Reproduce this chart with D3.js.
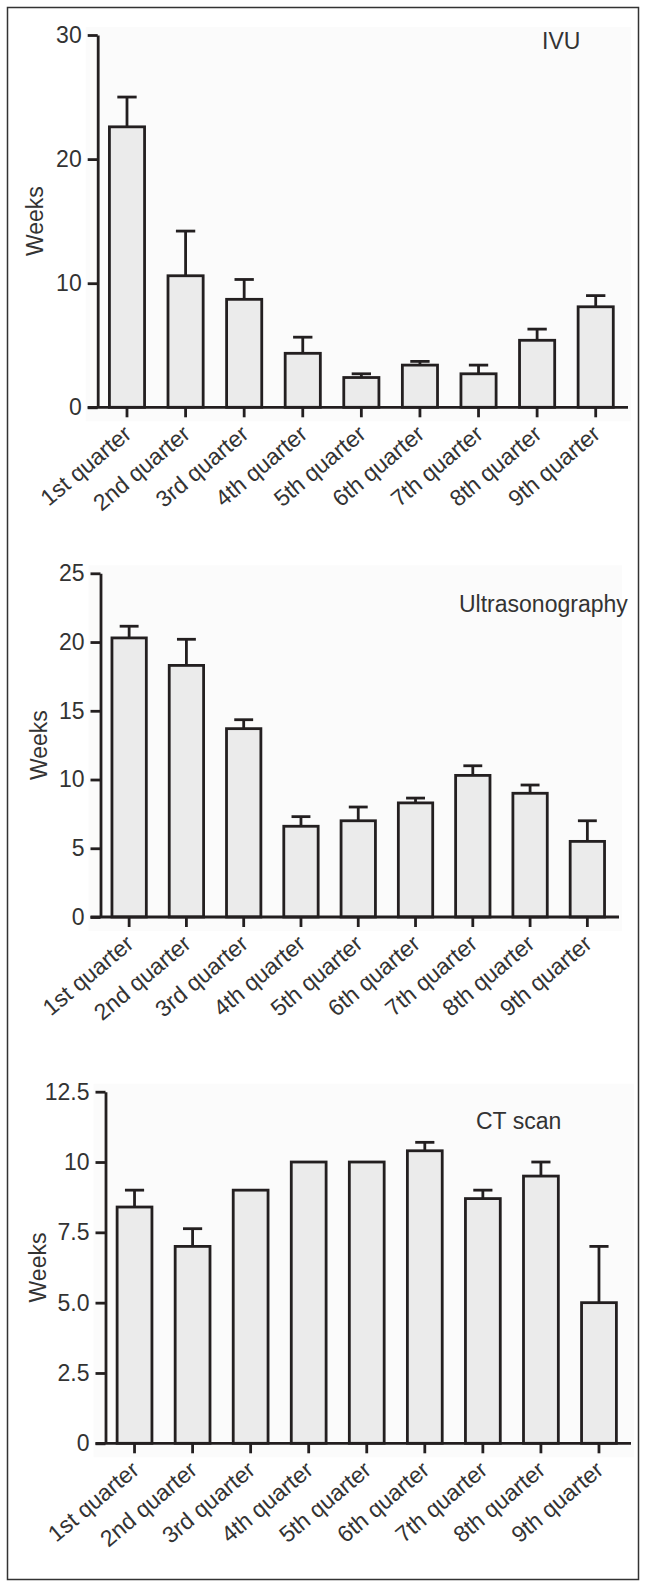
<!DOCTYPE html>
<html>
<head>
<meta charset="utf-8">
<script src="https://cdn.jsdelivr.net/npm/d3@7"></script>
<style>
  body { margin: 0; background: #fff; }
  svg { display: block; }
  .axis path, .axis line { stroke: #231f20; stroke-width: 2.8; }
  .axis text { font-family: 'Liberation Sans', Arial, sans-serif; fill: #333; }
</style>
</head>
<body>
<div id="chart"></div>
<script>
// quarters on the x axis, same for every panel
var quarters = ['1st quarter', '2nd quarter', '3rd quarter', '4th quarter', '5th quarter',
    '6th quarter', '7th quarter', '8th quarter', '9th quarter'];

// IVU
var ivuMean = [22.6, 10.6, 8.7, 4.35, 2.4, 3.4, 2.7, 5.4, 8.1];
var ivuErr = [2.4, 3.6, 1.6, 1.3, 0.3, 0.3, 0.7, 0.9, 0.9];
var ivuTicks = [0, 10, 20, 30];
var ivuTickLabels = ['0', '10', '20', '30'];

// Ultrasonography
var usMean = [20.3, 18.3, 13.7, 6.6, 7.0, 8.3, 10.3, 9.0, 5.5];
var usErr = [0.85, 1.9, 0.65, 0.7, 1.0, 0.35, 0.7, 0.6, 1.5];
var usTicks = [0, 5, 10, 15, 20, 25];
var usTickLabels = ['0', '5', '10', '15', '20', '25'];

// CT scan
var ctMean = [8.4, 7.0, 9.0, 10.0, 10.0, 10.4, 8.7, 9.5, 5.0];
var ctErr = [0.6, 0.63, 0, 0, 0, 0.3, 0.3, 0.5, 2.0];
var ctTicks = [0, 2.5, 5, 7.5, 10, 12.5];
var ctTickLabels = ['0', '2.5', '5.0', '7.5', '10', '12.5'];

var svgWidth = 646;
var svgHeight = 1587;

var svg = d3.select('#chart')
    .append('svg')
    .attr('width', svgWidth)
    .attr('height', svgHeight);

// outer frame
svg.append('rect')
    .attr('x', 7.5)
    .attr('y', 7.5)
    .attr('width', 631)
    .attr('height', 1572)
    .attr('fill', 'none')
    .attr('stroke', '#333')
    .attr('stroke-width', 1.5);

function drawPanel(p) {
    var x = d3.scaleBand()
        .domain(quarters)
        .range([p.left, p.right])
        .padding(0);

    var y = d3.scaleLinear()
        .domain([0, d3.max(p.ticks)])
        .range([p.bottom, p.top]);

    var g = svg.append('g');

    // faint plot background
    g.append('rect')
        .attr('x', p.left - 12)
        .attr('y', p.top - 8)
        .attr('width', p.right - p.left + 18)
        .attr('height', p.bottom - p.top + 22)
        .attr('fill', '#fbfbfb');

    var barW = x.bandwidth() * 0.6;
    var capW = barW * 0.55;

    var data = quarters.map(function(q, i) {
        return { q: q, mean: p.mean[i], err: p.err[i] };
    });

    // error bars (upper only) go under the bar outline
    var eb = g.selectAll('.err')
        .data(data.filter(function(d) { return d.err > 0; }))
        .enter()
        .append('g')
        .attr('class', 'err');

    eb.append('line')
        .attr('x1', function(d) { return x(d.q) + x.bandwidth() / 2; })
        .attr('x2', function(d) { return x(d.q) + x.bandwidth() / 2; })
        .attr('y1', function(d) { return y(d.mean); })
        .attr('y2', function(d) { return y(d.mean + d.err); })
        .attr('stroke', '#231f20')
        .attr('stroke-width', 2.8);

    eb.append('line')
        .attr('x1', function(d) { return x(d.q) + x.bandwidth() / 2 - capW / 2; })
        .attr('x2', function(d) { return x(d.q) + x.bandwidth() / 2 + capW / 2; })
        .attr('y1', function(d) { return y(d.mean + d.err); })
        .attr('y2', function(d) { return y(d.mean + d.err); })
        .attr('stroke', '#231f20')
        .attr('stroke-width', 2.8);

    g.selectAll('.bar')
        .data(data)
        .enter()
        .append('rect')
        .attr('class', 'bar')
        .attr('x', function(d) { return x(d.q) + (x.bandwidth() - barW) / 2; })
        .attr('y', function(d) { return y(d.mean); })
        .attr('width', barW)
        .attr('height', function(d) { return p.bottom - y(d.mean); })
        .attr('fill', '#ebebeb')
        .attr('stroke', '#231f20')
        .attr('stroke-width', 2.8);

    // y axis
    var yAxis = d3.axisLeft(y)
        .tickValues(p.ticks)
        .tickFormat(function(d, i) { return p.tickLabels[i]; })
        .tickSize(10)
        .tickPadding(6)
        .tickSizeOuter(0);

    g.append('g')
        .attr('class', 'axis')
        .attr('transform', 'translate(' + p.left + ',0)')
        .call(yAxis)
        .selectAll('text')
        .style('font-size', '23px');

    // x axis, line reaches left past the y axis like the original
    var xAxis = d3.axisBottom(x).tickSize(10).tickSizeOuter(0);

    var xg = g.append('g')
        .attr('class', 'axis')
        .attr('transform', 'translate(0,' + p.bottom + ')')
        .call(xAxis);

    xg.select('.domain')
        .attr('d', 'M' + (p.left - 10) + ',0H' + (p.right + 3));

    xg.selectAll('text')
        .style('font-size', '23px')
        .attr('x', 0)
        .attr('y', 0)
        .attr('dy', 0)
        .style('text-anchor', 'end')
        .attr('transform', 'translate(6,29) rotate(-40)');

    // y title
    g.append('text')
        .attr('transform', 'translate(' + p.ylabX + ',' + ((p.top + p.bottom) / 2) + ') rotate(-90)')
        .attr('text-anchor', 'middle')
        .style('font-family', "'Liberation Sans', Arial, sans-serif")
        .style('font-size', '23px')
        .style('fill', '#333')
        .text('Weeks');

    // panel name
    g.append('text')
        .attr('x', p.titleX)
        .attr('y', p.titleY)
        .style('font-family', "'Liberation Sans', Arial, sans-serif")
        .style('font-size', '23px')
        .style('fill', '#333')
        .text(p.title);
}

drawPanel({
    title: 'IVU', titleX: 542, titleY: 49,
    mean: ivuMean, err: ivuErr, ticks: ivuTicks, tickLabels: ivuTickLabels,
    left: 97.7, right: 625, top: 35, bottom: 407.3, ylabX: 43
});

drawPanel({
    title: 'Ultrasonography', titleX: 459, titleY: 612,
    mean: usMean, err: usErr, ticks: usTicks, tickLabels: usTickLabels,
    left: 100.5, right: 616, top: 573.3, bottom: 917, ylabX: 47
});

drawPanel({
    title: 'CT scan', titleX: 476, titleY: 1129,
    mean: ctMean, err: ctErr, ticks: ctTicks, tickLabels: ctTickLabels,
    left: 105.5, right: 628, top: 1091.7, bottom: 1443.3, ylabX: 46
});
</script>
</body>
</html>
